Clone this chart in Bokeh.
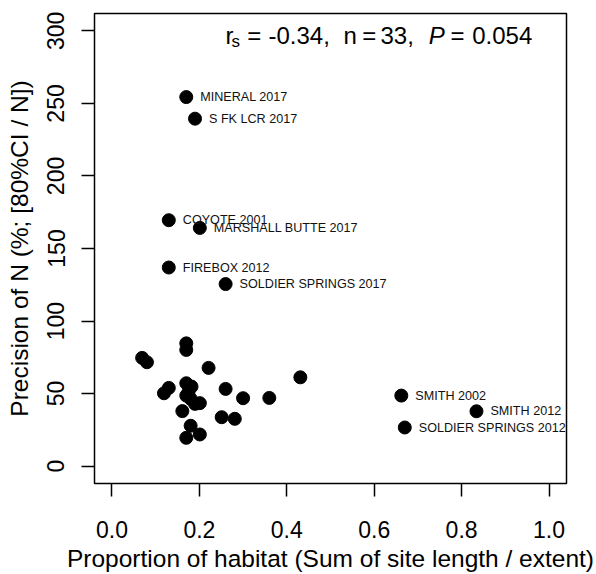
from bokeh.plotting import figure
from bokeh.models import ColumnDataSource, Range1d, FixedTicker, PrintfTickFormatter, Label
from bokeh.embed import file_html
from bokeh.resources import INLINE

# Data
proportion = [0.170, 0.190, 0.130, 0.201, 0.130, 0.260, 0.662, 0.834, 0.670,
              0.170, 0.170, 0.069, 0.080, 0.221, 0.431, 0.130, 0.119, 0.170,
              0.182, 0.260, 0.170, 0.180, 0.190, 0.201, 0.300, 0.360, 0.161,
              0.251, 0.281, 0.180, 0.201, 0.170, 0.175]
precision = [254.4, 239.5, 169.5, 164.2, 136.9, 125.5, 48.6, 37.8, 26.6,
             84.6, 80.1, 74.6, 71.6, 67.7, 61.2, 53.9, 50.2, 57.1,
             54.8, 53.2, 48.6, 46.4, 42.9, 43.4, 46.8, 47.0, 37.9,
             33.7, 32.6, 27.8, 21.8, 19.5, 51.0]
site_labels = ["MINERAL 2017", "S FK LCR 2017", "COYOTE 2001", "MARSHALL BUTTE 2017",
               "FIREBOX 2012", "SOLDIER SPRINGS 2017", "SMITH 2002", "SMITH 2012",
               "SOLDIER SPRINGS 2012"] + [""] * 24
x_ticks = [0.0, 0.2, 0.4, 0.6, 0.8, 1.0]
y_ticks = [0, 50, 100, 150, 200, 250, 300]
stat_rs = "-0.34,"
stat_n = "33,"
stat_p = "0.054"

FONT = "Liberation Sans"

source = ColumnDataSource(dict(x=proportion, y=precision, label=site_labels))

p = figure(width=596, height=574, output_backend="svg", toolbar_location=None,
           x_range=Range1d(-0.04, 1.04), y_range=Range1d(-12, 312),
           min_border_left=94, min_border_right=30, min_border_top=13, min_border_bottom=91)
p.grid.visible = False
p.outline_line_color = "black"
p.outline_line_width = 1.5
p.background_fill_color = "white"
p.border_fill_color = "white"

p.scatter("x", "y", source=source, size=13, color="black", marker="circle")
p.text("x", "y", text="label", source=source, x_offset=14, text_baseline="middle",
       text_align="left", text_font_size="12.6px", text_color="#111111",
       text_font={"value": FONT})

for ax in (p.xaxis[0], p.yaxis[0]):
    ax.axis_line_color = None
    ax.major_tick_in = 0
    ax.major_tick_out = 13
    ax.major_tick_line_width = 1.5
    ax.minor_tick_line_color = None
    ax.major_label_text_font = FONT
    ax.major_label_text_font_size = "23px"
    ax.major_label_text_color = "black"
    ax.axis_label_text_font = FONT
    ax.axis_label_text_font_size = "24.5px"
    ax.axis_label_text_font_style = "normal"
    ax.axis_label_text_color = "black"

p.xaxis.ticker = FixedTicker(ticks=x_ticks)
p.xaxis.formatter = PrintfTickFormatter(format="%.1f")
p.xaxis.major_label_standoff = 24
p.xaxis.axis_label = "Proportion of habitat (Sum of site length / extent)"
p.xaxis.axis_label_standoff = 4

p.yaxis.ticker = FixedTicker(ticks=y_ticks)
p.yaxis.major_label_orientation = "parallel"
p.yaxis.major_label_standoff = 17
p.yaxis.axis_label = "Precision of N (%; [80%CI / N])"
p.yaxis.axis_label_standoff = 12

# statistics annotation (screen units relative to frame bottom-left)
def add(text, X, Y, size="24px", style="normal"):
    p.add_layout(Label(x=X - 94, y=483 - Y, x_units="screen", y_units="screen",
                       text=text, text_font=FONT, text_font_size=size,
                       text_font_style=style, text_baseline="alphabetic",
                       text_align="left", text_color="black"))

add("r", 225, 35)
add("s", 231, 41, size="17px")
add("=", 246.7, 35)
add(stat_rs, 268, 35)
add("n", 343, 35)
add("=", 361.7, 35)
add(stat_n, 380, 35)
add("P", 428.3, 35, style="italic")
add("=", 450, 35)
add(stat_p, 471.7, 35)

open("out.html", "w").write(file_html(p, INLINE))
